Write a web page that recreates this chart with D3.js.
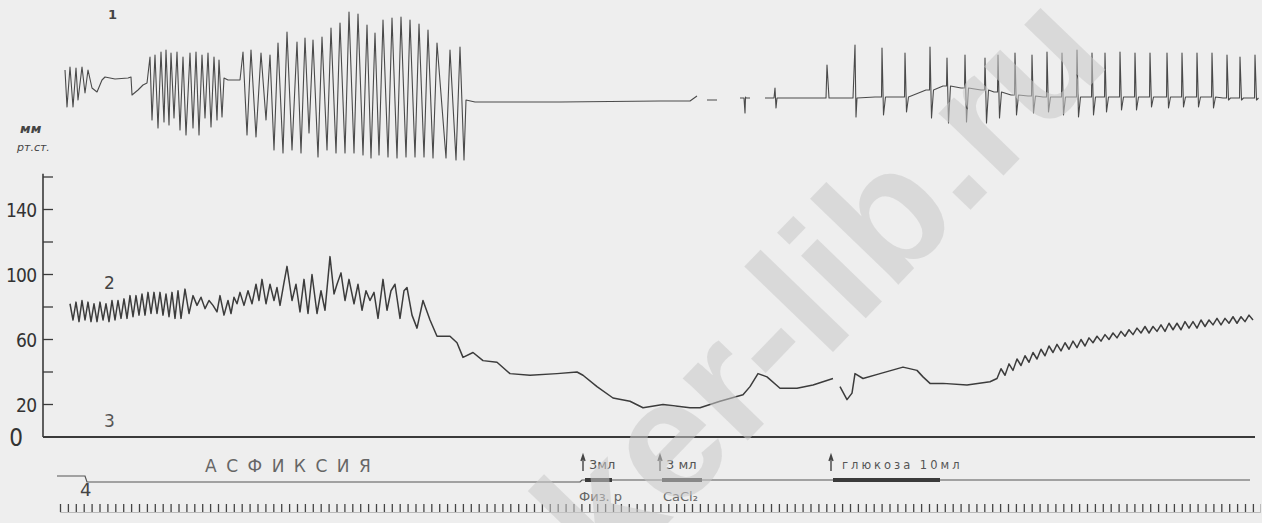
<!DOCTYPE html>
<meta charset="utf-8">
<script src="https://cdn.jsdelivr.net/npm/d3@7"></script>
<style>
  body { margin: 0; background: #eeeeee; }
  svg { display: block; }
</style>
<body>
<script>

var width = 1262
var height = 523

// tape position (mm of kymograph paper), pen deflection, blood pressure
var tape = d3.scaleLinear().domain([0, 1200]).range([60, 1260]);
var resp = d3.scaleLinear().domain([-60, 100]).range([160, 0]);
var press = d3.scaleLinear().domain([0, 160]).range([437, 177]);
var mark = d3.scaleLinear().domain([0, 1]).range([482, 476]);

// trace 1 - respiration, [tape, deflection], null = pen lifted
var respPoints = [
  [5,30],[7,-7],[10,33],[13,-7],[16,32],[18,0],[22,33],[25,7],[28,30],[32,12],[37,8],[42,20],[45,23],[55,21],[68,22],[71,23],[72,5],[78,10],[83,15],[87,17],
  [90,43],[92,-20],[95,45],[98,-28],[101,48],[104,-22],[106,50],[109,-25],[111,47],[114,-18],[117,48],[120,-30],[123,43],[126,-35],[130,47],[133,-28],[136,48],[139,-35],[142,45],[145,-18],[148,47],[151,-27],[154,43],[157,-20],[159,40],[162,-17],[164,22],[168,20],[180,20],
  [183,48],[187,-35],[191,50],[196,-37],[201,47],[206,-20],[210,45],[214,-50],[218,57],[223,-53],[227,68],[232,-50],[237,58],[241,-53],[245,62],[249,-33],[253,60],[258,-57],[262,63],[267,-50],[271,72],[276,-53],[280,77],[285,-53],[289,88],[294,-53],[298,86],[303,-55],[307,75],[311,-58],[315,67],[319,-55],[323,80],[328,-57],[332,82],[337,-58],[341,83],[346,-57],[350,80],[355,-57],[359,76],[364,-57],[368,70],[373,-58],[377,57],[386,-58],[390,50],[396,-60],[400,53],[404,-60],[406,0],[415,-2],[500,-2],[600,-1],[630,-1],[637,4],null,
  [647,0],[657,0],null,
  [680,2],[684,2],[685,-13],[685.5,3],[686,2],[690,2],null,
  [705,2],[714,2],[715,12],[716,-8],[717,2],[740,2],[762,2],[766,2],[767,35],[769,2],[787,2],[793,2],[795,55],[796,-17],[797,2],[815,3]
];

// regular heart-beat spikes on trace 1 after revival
var spikeTimes = [822,845,870,887,905,925,938,955,972,987,1002,1017,1032,1045,1060,1075,1090,1107,1122,1137,1152,1167,1180,1195];
var spikeTops  = [52,47,53,42,45,42,45,47,45,48,47,50,47,47,48,47,47,47,47,47,47,45,43,45];
var spikeDips  = [-15,-12,-18,-23,-22,-23,-18,-15,-13,-12,-15,-17,-15,-12,-10,-10,-7,-8,-7,-7,-8,0,0,0];
var spikeBase  = [3,3,10,14,12,10,8,5,4,3,3,3,3,3,3,3,3,3,3,3,3,2,2,2];

// trace 2 - arterial pressure, [tape, mm Hg]
var bpPoints = [
  [10,82],[13,72],[16,83],[19,71],[22,84],[25,72],[28,83],[31,71],[34,82],[37,71],[40,83],[43,72],[46,82],[49,71],[52,84],[55,72],[58,84],[61,73],[64,85],[67,73],[70,87],
  [73,74],[76,87],[79,75],[82,88],[85,75],[88,89],[91,76],[94,89],[97,76],[100,89],[103,75],[106,88],[109,74],[112,89],[115,73],[118,90],[121,73],[125,91],[129,76],[133,87],[137,81],[141,86],[145,79],[149,84],[153,81],[157,77],[160,87],[164,75],[168,84],[171,76],[174,86],[177,82],[180,89],[184,81],[188,90],[192,82],[196,94],[199,84],[202,97],[206,82],[210,94],[214,84],[217,92],[220,81],[224,95],[227,105],[232,84],[236,94],[240,77],[244,97],[248,76],[252,100],[257,76],[261,90],[265,78],[270,111],[274,88],[277,94],[281,101],[285,84],[289,97],[294,82],[298,94],[302,78],[306,90],[310,84],[314,89],[318,73],[323,97],[327,78],[331,90],[335,94],[340,73],[344,90],[347,92],[352,75],[357,67],[363,84],[370,72],
  [377,62],[383,62],[390,62],[397,58],[403,49],[413,52],[423,47],[437,46],[450,39],[470,38],[497,39],[517,40],[523,38],[537,31],[553,24],[570,22],[583,18],[603,20],[630,18],[640,18],[660,22],[683,26],[690,31],[698,39],[707,37],[720,30],[737,30],[753,32],[773,36],null,
  [780,31],[787,23],[792,27],[795,39],[803,36],[820,39],[843,43],[857,41],[863,37],[870,33],[883,33],[907,32],[930,34],
  [937,36],[941,42],[945,38],[949,45],[953,41],[957,48],[961,44],[965,50],[969,46],[973,52],[977,48],[981,54],[985,50],[989,56],[993,52],[997,57],[1001,53],[1005,58],[1009,54],[1013,59],[1017,55],[1021,60],[1025,56],[1029,61],[1033,58],[1037,62],[1041,59],[1045,63],[1049,60],[1053,64],[1057,61],[1061,65],[1065,62],[1069,66],[1073,63],[1077,67],[1081,64],[1085,68],[1089,64],[1093,68],[1097,65],[1101,69],[1105,65],[1109,70],[1113,66],[1117,70],[1121,66],[1125,71],[1129,67],[1133,71],[1137,67],[1141,72],[1145,68],[1149,72],[1153,69],[1157,73],[1161,69],[1165,73],[1169,70],[1173,74],[1177,70],[1181,74],[1185,71],[1189,75],[1193,72]
];

var pressTicks = [0, 20, 40, 60, 80, 100, 120, 140, 160];
var pressLabels = [20, 60, 100, 140];

// trace 4 - stimulus marker
var asphyxia = [25, 520];
var injStart = [525, 602, 773];
var injEnd   = [552, 642, 880];
var injDose  = ["3мл", "3 мл", "глюкоза 10мл"];
var injDrug  = ["Физ. р", "CaCl₂", ""];
var timeMarks = d3.range(0, 1196, 7.9);

var svg = d3.select("body").append("svg")
            .attr("width", width)
            .attr("height", height)
            .style("font-family", "'DejaVu Sans', sans-serif");

svg.append("rect").attr("width", width).attr("height", height).attr("fill", "#eeeeee");

// ---- trace 1
var respAll = respPoints.slice();
spikeTimes.forEach(function(t, i) {
  respAll.push([t - 4, spikeBase[i]], [t - 0.5, spikeBase[i]], [t, spikeTops[i]], [t + 1.5, spikeDips[i]], [t + 3.5, spikeBase[i]]);
});

var respLine = d3.line()
    .defined(function(d) { return d != null; })
    .x(function(d) { return tape(d[0]); })
    .y(function(d) { return resp(d[1]); });

svg.append("path").attr("d", respLine(respAll))
   .attr("fill", "none").attr("stroke", "#4a4a4a").attr("stroke-width", 1.1).attr("stroke-linejoin", "round");

// ---- pressure axis
svg.append("line")
   .attr("x1", 43).attr("x2", 43).attr("y1", press(162)).attr("y2", press(0))
   .attr("stroke", "#3a3a3a").attr("stroke-width", 1.6);

svg.selectAll(".ptick").data(pressTicks.slice(1)).enter().append("line")
   .attr("x1", 43).attr("x2", 53)
   .attr("y1", function(d) { return press(d); }).attr("y2", function(d) { return press(d); })
   .attr("stroke", "#3a3a3a").attr("stroke-width", 1.3);

svg.selectAll(".plabel").data(pressLabels).enter().append("text")
   .attr("x", 37).attr("y", function(d) { return press(d) + 7; })
   .attr("text-anchor", "end")
   .style("font-family", "'DejaVu Sans Condensed', 'Liberation Sans Narrow', sans-serif")
   .style("font-stretch", "condensed")
   .style("font-size", "19px").attr("fill", "#333")
   .attr("textLength", function(d) { return d >= 100 ? 31 : 21; })
   .text(function(d) { return d; });

svg.append("text").attr("x", 23).attr("y", press(0) + 9).attr("text-anchor", "end")
   .style("font-size", "24px").style("font-stretch", "condensed")
   .attr("fill", "#333").text("0");

// ---- trace 3 (zero line)
svg.append("line")
   .attr("x1", 43).attr("x2", tape(1195)).attr("y1", press(0)).attr("y2", press(0))
   .attr("stroke", "#3a3a3a").attr("stroke-width", 1.8);

// ---- trace 2
var bpLine = d3.line()
    .defined(function(d) { return d != null; })
    .x(function(d) { return tape(d[0]); })
    .y(function(d) { return press(d[1]); });

svg.append("path").attr("d", bpLine(bpPoints))
   .attr("fill", "none").attr("stroke", "#3c3c3c").attr("stroke-width", 1.5).attr("stroke-linejoin", "round");

// ---- trace 4, stimulus marker
var markLine = [[-3, 1], [asphyxia[0], 1], [asphyxia[0] + 2, 0], [asphyxia[1], 0], [asphyxia[1] + 2, 0.33], [1190, 0.33]];
svg.append("path")
   .attr("d", d3.line().x(function(d) { return tape(d[0]); }).y(function(d) { return mark(d[1]); })(markLine))
   .attr("fill", "none").attr("stroke", "#555").attr("stroke-width", 1.2);

svg.selectAll(".inj").data(injStart).enter().append("line")
   .attr("x1", function(d) { return tape(d); })
   .attr("x2", function(d, i) { return tape(injEnd[i]); })
   .attr("y1", mark(0.33)).attr("y2", mark(0.33))
   .attr("stroke", "#3a3a3a").attr("stroke-width", 4);

svg.selectAll(".arrow").data(injStart).enter().append("path")
   .attr("d", function(d) { var x = tape(d) - 2; return "M" + x + ",471 L" + x + ",456 M" + (x - 2) + ",461 L" + x + ",455 L" + (x + 2) + ",461"; })
   .attr("fill", "none").attr("stroke", "#444").attr("stroke-width", 1.4);

svg.selectAll(".dose").data(injDose).enter().append("text")
   .attr("x", function(d, i) { return tape(injStart[i]) + (i == 2 ? 9 : 4); })
   .attr("y", 469)
   .style("font-size", function(d, i) { return i == 2 ? "11.5px" : "13px"; })
   .style("letter-spacing", function(d, i) { return i == 2 ? "3px" : "0px"; })
   .attr("fill", "#555").text(function(d) { return d; });

svg.selectAll(".drug").data(injDrug).enter().append("text")
   .attr("x", function(d, i) { return tape(injStart[i]) - 6 + i * 7; })
   .attr("y", 501)
   .style("font-size", "13px").attr("fill", "#666").text(function(d) { return d; });

svg.append("text").attr("x", 205).attr("y", 472)
   .style("font-size", "17px").style("letter-spacing", "9.5px").attr("fill", "#666")
   .text("АСФИКСИЯ");

// time marks
svg.append("g")
   .attr("transform", "translate(0,512)")
   .call(d3.axisTop(tape).tickValues(timeMarks).tickSize(8).tickFormat(""))
   .call(function(g) { g.select(".domain").attr("stroke", "#999").attr("stroke-width", 0.6); })
   .call(function(g) { g.selectAll(".tick line").attr("stroke", "#444").attr("stroke-width", 1.3); });

// trace labels
svg.append("text").attr("x", 108).attr("y", 19).style("font-size", "13px").style("font-weight", "bold").attr("fill", "#444").text("1");
svg.append("text").attr("x", 104).attr("y", 289).style("font-size", "17px").attr("fill", "#444").text("2");
svg.append("text").attr("x", 104).attr("y", 427).style("font-size", "17px").attr("fill", "#555").text("3");
svg.append("text").attr("x", 80).attr("y", 496).style("font-size", "18px").attr("fill", "#444").text("4");
svg.append("text").attr("x", 20).attr("y", 133).style("font-size", "13px").style("font-style", "italic").style("font-weight", "bold").attr("fill", "#444").text("мм");
svg.append("text").attr("x", 17).attr("y", 151).style("font-size", "11px").style("font-style", "italic").attr("fill", "#444").text("рт.ст.");

// scan watermark (runs off the page in the scan too)
svg.append("text")
   .attr("transform", "translate(818,282) rotate(-46)")
   .attr("text-anchor", "middle").attr("dy", "0.35em")
   .style("font-family", "'Liberation Sans', sans-serif")
   .style("font-size", "170px").style("font-weight", "bold")
   .attr("fill", "#c8c8c8").attr("fill-opacity", 0.55)
   .text("ker-lib.ru");

</script>
</body>
